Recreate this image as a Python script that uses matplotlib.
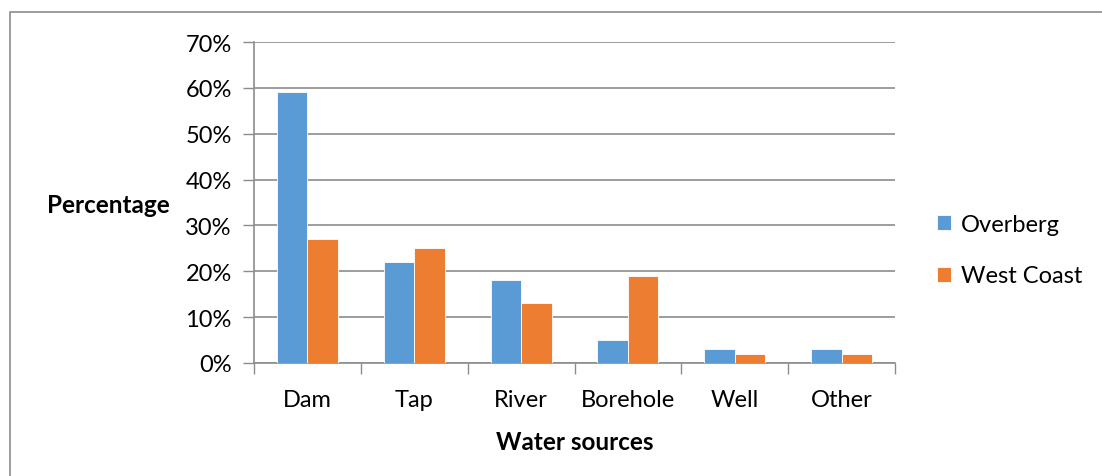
import numpy as np
import matplotlib.pyplot as plt
from matplotlib.patches import Rectangle

sources = ["Dam", "Tap", "River", "Borehole", "Well", "Other"]
overberg = [59, 22, 18, 5, 3, 3]
west_coast = [27, 25, 13, 19, 2, 2]
yticks = [0, 10, 20, 30, 40, 50, 60, 70]

plt.rcParams["font.family"] = ["Lato", "DejaVu Sans"]

fig = plt.figure(figsize=(11.02, 4.77), dpi=100)
ax = fig.add_axes([254 / 1102, 1 - 364 / 477, 641 / 1102, 321 / 477])

# outer chart frame (left and top edges only inside the image)
fig.patches.append(Rectangle((10 / 1102, -0.1), 1.2, 1 - 13 / 477 + 0.1,
                             transform=fig.transFigure, fill=False,
                             edgecolor="#8c8c8c", linewidth=1.2))

x = np.arange(len(sources))
w = 0.285
ax.bar(x - w / 2, overberg, w, color="#5B9BD5", edgecolor="white",
       linewidth=0.6, label="Overberg", zorder=3)
ax.bar(x + w / 2, west_coast, w, color="#ED7D31", edgecolor="white",
       linewidth=0.6, label="West Coast", zorder=3)

ax.set_xlim(-0.5, len(sources) - 0.5)
ax.set_ylim(0, 70)
ax.set_yticks(yticks)
ax.set_yticklabels([f"{v}%" for v in yticks], fontsize=17)
ax.set_xticks(x)
ax.set_xticklabels(sources, fontsize=17)
ax.set_xticks(np.arange(len(sources) + 1) - 0.5, minor=True)
ax.tick_params(axis="x", which="major", length=0, pad=19)
ax.tick_params(axis="x", which="minor", length=8, color="#8c8c8c", width=1)
ax.tick_params(axis="y", length=8, color="#8c8c8c", width=1, pad=8)

ax.grid(axis="y", color="#8c8c8c", linewidth=1.2, zorder=0)
for side in ["top", "right"]:
    ax.spines[side].set_visible(False)
for side in ["left", "bottom"]:
    ax.spines[side].set_color("#8c8c8c")
    ax.spines[side].set_linewidth(1.2)

ax.set_xlabel("Water sources", fontsize=17.5, fontweight="bold", labelpad=14)
fig.text(108 / 1102, 1 - 206 / 477, "Percentage", fontsize=17.5,
         fontweight="bold", ha="center", va="center")

ax.legend(loc="center left", bbox_to_anchor=(916 / 1102, 1 - 251 / 477),
          bbox_transform=fig.transFigure, frameon=False, fontsize=17,
          handlelength=0.6, handleheight=0.6, handletextpad=0.4,
          labelspacing=1.3)

fig.savefig("out.png", dpi=100)
